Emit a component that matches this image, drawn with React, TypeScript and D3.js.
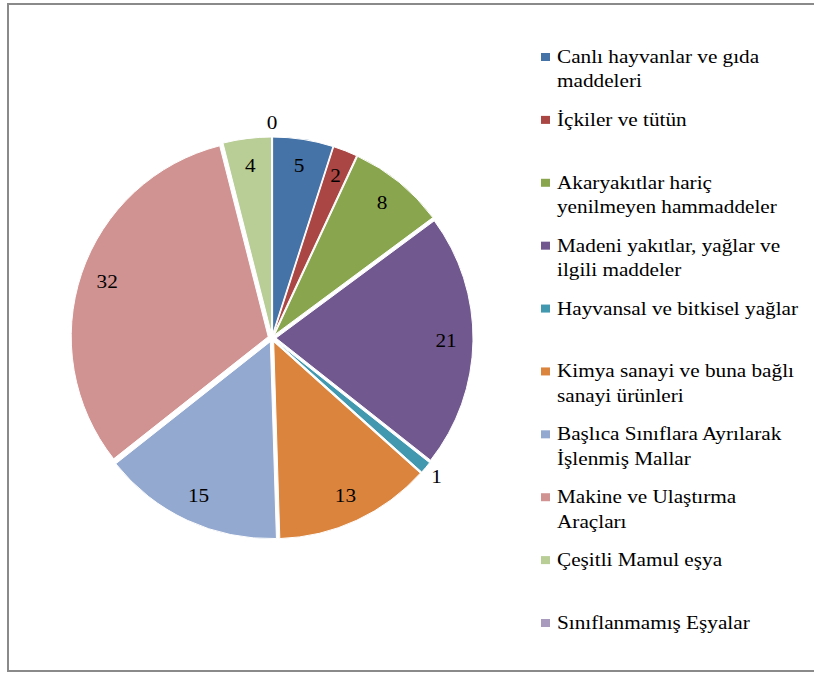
import React from 'react';
import * as d3 from 'd3';

const categories = [
  'Canlı hayvanlar ve gıda\nmaddeleri',
  'İçkiler ve tütün',
  'Akaryakıtlar hariç\nyenilmeyen hammaddeler',
  'Madeni yakıtlar, yağlar ve\nilgili maddeler',
  'Hayvansal ve bitkisel yağlar',
  'Kimya sanayi ve buna bağlı\nsanayi ürünleri',
  'Başlıca Sınıflara Ayrılarak\nİşlenmiş Mallar',
  'Makine ve Ulaştırma\nAraçları',
  'Çeşitli Mamul eşya',
  'Sınıflanmamış Eşyalar'
];

const values = [5, 2, 8, 21, 1, 13, 15, 32, 4, 0];

const colors = [
  '#4572A7', '#AA4643', '#89A54E', '#71588F', '#4198AF',
  '#DB843D', '#93A9CF', '#D19392', '#B9CD96', '#A99BBD'
];

const W = 814;
const H = 673;
const FONT = 'Liberation Serif';
const STRETCH = 1.18; // the original picture is stretched sideways

const cx = 272;
const cy = 338;
const R = 197;
const explode = 4;

const App: React.FC = () => {
  const pie = d3.pie<number>().sort(null).value(d => d);
  const arcs = pie(values);
  const arc = d3.arc<d3.PieArcDatum<number>>().innerRadius(0).outerRadius(R);
  const mid = (d: d3.PieArcDatum<number>) => (d.startAngle + d.endAngle) / 2;
  const legendY = d3.scaleLinear().domain([0, categories.length - 1]).range([63, 629]);

  return (
    <svg width={W} height={H} style={{ position: 'absolute', left: 0, top: 0, background: '#fff' }}>
      {/* chart frame */}
      <rect x={8} y={4} width={W + 20} height={667} fill="#fff" stroke="#8a8a8a" strokeWidth={2} />

      <g transform={`translate(${cx},${cy})`}>
        {arcs.map((d, i) => (
          <path
            key={i}
            d={arc(d) || ''}
            transform={`translate(${Math.sin(mid(d)) * explode},${-Math.cos(mid(d)) * explode})`}
            fill={colors[i]}
            stroke="#fff"
            strokeWidth={1}
          />
        ))}
        {arcs.map((d, i) => {
          const r = d.data <= 1 ? 215 : 174;
          const x = Math.sin(mid(d)) * r;
          const y = -Math.cos(mid(d)) * r;
          return (
            <text
              key={i}
              transform={`translate(${x},${y}) scale(${STRETCH},1)`}
              dy="0.35em"
              textAnchor="middle"
              fontFamily={FONT}
              fontSize={18}
              fill="#000"
            >
              {String(d.data)}
            </text>
          );
        })}
      </g>

      {/* legend */}
      <g transform="translate(541,0)">
        {categories.map((name, i) => {
          const y = legendY(i);
          return (
            <g key={i}>
              <rect x={0} y={y - 10} width={9} height={8} fill={colors[i]} />
              <text
                transform={`translate(16,${y}) scale(${STRETCH},1)`}
                fontFamily={FONT}
                fontSize={18}
                fill="#000"
              >
                {name.split('\n').map((line, j) => (
                  <tspan key={j} x={0} y={j * 24.5}>{line}</tspan>
                ))}
              </text>
            </g>
          );
        })}
      </g>
    </svg>
  );
};

export default App;
